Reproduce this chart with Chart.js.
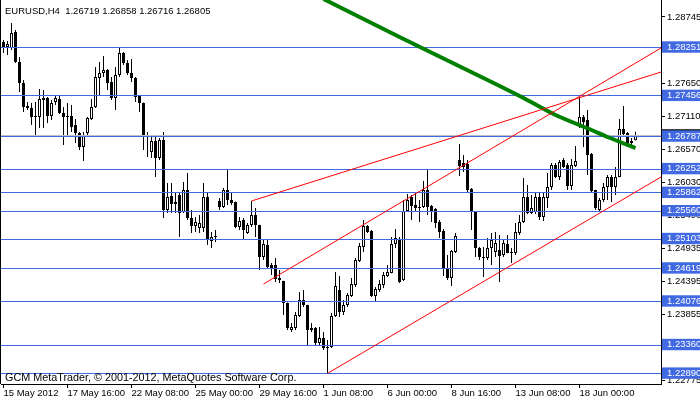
<!DOCTYPE html>
<html>
<head>
<meta charset="utf-8">
<title>EURUSD,H4</title>
<script src="https://cdn.jsdelivr.net/npm/chart.js@4.4.1/dist/chart.umd.min.js"></script>
<style>
html, body { margin: 0; padding: 0; background: #ffffff; }
canvas { display: block; }
</style>
</head>
<body>
<canvas id="chart" width="700" height="402"></canvas>
<script>
// header and footer texts
var symbolTitle = 'EURUSD,H4  1.26719 1.26858 1.26716 1.26805';
var copyright = 'GCM MetaTrader, \u00a9 2001-2012, MetaQuotes Software Corp.';

// H4 candles, index 0 = 15 May 2012 00:00
var opens = [
	1.28334, 1.28251, 1.28235, 1.28498, 1.28005, 1.27660, 1.27281, 1.27249, 1.27117, 1.27101,
	1.27413, 1.27413, 1.27117, 1.27347, 1.27396, 1.27166, 1.27117, 1.27117, 1.26969, 1.26838,
	1.26607, 1.26838, 1.27068, 1.27265, 1.27742, 1.27824, 1.27873, 1.27676, 1.27413, 1.27791,
	1.28153, 1.27988, 1.27824, 1.27742, 1.27446, 1.27331, 1.26788, 1.26525, 1.26706, 1.26427,
	1.26722, 1.25572, 1.25802, 1.25670, 1.25818, 1.25539, 1.25900, 1.25440, 1.25309, 1.25276,
	1.25276, 1.25785, 1.25062, 1.25144, 1.25720, 1.25621, 1.25900, 1.25736, 1.25703, 1.25292,
	1.25407, 1.25194, 1.25325, 1.25489, 1.25325, 1.24799, 1.24996, 1.24667, 1.24667, 1.24454,
	1.24404, 1.24043, 1.23599, 1.23632, 1.23829, 1.24092, 1.24010, 1.23632, 1.23632, 1.23385,
	1.23467, 1.23319, 1.23319, 1.23829, 1.24256, 1.23895, 1.24010, 1.24158, 1.24339, 1.24733,
	1.24963, 1.25309, 1.25226, 1.24158, 1.24256, 1.24339, 1.24487, 1.24536, 1.25013, 1.25095,
	1.24421, 1.25555, 1.25785, 1.25654, 1.25605, 1.25621, 1.25900, 1.25637, 1.25588, 1.25374,
	1.25226, 1.24618, 1.24454, 1.24881, 1.26394, 1.26344, 1.26328, 1.25917, 1.25539, 1.24947,
	1.24799, 1.24783, 1.24947, 1.24881, 1.24914, 1.24832, 1.25013, 1.24881, 1.24865, 1.25194,
	1.25374, 1.25785, 1.25522, 1.25539, 1.25785, 1.25457, 1.25769, 1.25950, 1.26311, 1.26114,
	1.26394, 1.26311, 1.25966, 1.26295, 1.26969, 1.27101, 1.27051, 1.26492, 1.25900, 1.25572,
	1.25736, 1.25950, 1.26114, 1.25950, 1.26114, 1.26903, 1.26838, 1.26673, 1.26719
];
var highs = [
	1.28366, 1.28350, 1.28646, 1.28531, 1.28087, 1.27709, 1.27347, 1.27331, 1.27347, 1.27561,
	1.27544, 1.27429, 1.27380, 1.27462, 1.27446, 1.27265, 1.27331, 1.27298, 1.27068, 1.26854,
	1.26854, 1.27101, 1.27396, 1.27923, 1.28005, 1.28103, 1.27890, 1.27758, 1.27923, 1.28235,
	1.28169, 1.28038, 1.28054, 1.27758, 1.27462, 1.27340, 1.26854, 1.26772, 1.26805, 1.26755,
	1.26854, 1.26016, 1.26016, 1.25851, 1.25851, 1.26032, 1.26180, 1.25572, 1.25457, 1.25489,
	1.26016, 1.25851, 1.25210, 1.25243, 1.25769, 1.25933, 1.26229, 1.25868, 1.25710, 1.25457,
	1.25440, 1.25358, 1.25720, 1.25605, 1.25330, 1.25078, 1.25078, 1.24700, 1.24783, 1.24585,
	1.24410, 1.24050, 1.23714, 1.23895, 1.24224, 1.24256, 1.24015, 1.23714, 1.23648, 1.23648,
	1.23566, 1.23434, 1.23878, 1.24552, 1.24487, 1.24092, 1.24207, 1.24454, 1.24783, 1.25029,
	1.25407, 1.25325, 1.25243, 1.24306, 1.24421, 1.24552, 1.24667, 1.25128, 1.25259, 1.25128,
	1.25736, 1.25835, 1.25818, 1.25851, 1.25736, 1.26048, 1.26246, 1.25654, 1.25605, 1.25407,
	1.25259, 1.24832, 1.24914, 1.25194, 1.26656, 1.26476, 1.26394, 1.25933, 1.25545, 1.24963,
	1.24963, 1.25111, 1.25194, 1.25210, 1.25161, 1.25078, 1.25161, 1.24947, 1.25358, 1.25489,
	1.26098, 1.25983, 1.25818, 1.25851, 1.25851, 1.25851, 1.26180, 1.26344, 1.26344, 1.26394,
	1.26427, 1.26344, 1.26410, 1.26624, 1.27429, 1.27133, 1.27216, 1.26509, 1.25905, 1.25769,
	1.26016, 1.26147, 1.26147, 1.26279, 1.27068, 1.27281, 1.26854, 1.26755, 1.26858
];
var lows = [
	1.28153, 1.28120, 1.28202, 1.27988, 1.27512, 1.27183, 1.27216, 1.26969, 1.26772, 1.26920,
	1.26920, 1.27002, 1.27051, 1.27298, 1.27150, 1.26640, 1.26772, 1.26854, 1.26673, 1.26558,
	1.26377, 1.26772, 1.27051, 1.27249, 1.27462, 1.27758, 1.27544, 1.27380, 1.27216, 1.27758,
	1.27955, 1.27791, 1.27676, 1.27347, 1.27183, 1.26558, 1.26443, 1.26427, 1.26114, 1.26394,
	1.25440, 1.25522, 1.25522, 1.25522, 1.25128, 1.25522, 1.25407, 1.25194, 1.25210, 1.25194,
	1.25210, 1.24996, 1.24947, 1.25046, 1.25572, 1.25605, 1.25654, 1.25654, 1.25276, 1.25243,
	1.25078, 1.25177, 1.25292, 1.25128, 1.24585, 1.24750, 1.24602, 1.24503, 1.24388, 1.24372,
	1.23845, 1.23599, 1.23566, 1.23599, 1.23813, 1.23977, 1.23352, 1.23566, 1.23352, 1.23352,
	1.23270, 1.22885, 1.23303, 1.23813, 1.23813, 1.23845, 1.23977, 1.24141, 1.24306, 1.24717,
	1.24881, 1.25194, 1.24141, 1.24059, 1.24224, 1.24289, 1.24470, 1.24530, 1.24947, 1.24372,
	1.24404, 1.25539, 1.25407, 1.25555, 1.25374, 1.25605, 1.25489, 1.25374, 1.25276, 1.25111,
	1.24487, 1.24421, 1.24322, 1.24865, 1.26131, 1.26196, 1.25868, 1.25243, 1.24799, 1.24750,
	1.24470, 1.24750, 1.24667, 1.24799, 1.24388, 1.24799, 1.24860, 1.24700, 1.24832, 1.25161,
	1.25358, 1.25506, 1.25506, 1.25506, 1.25407, 1.25391, 1.25605, 1.25900, 1.26098, 1.26065,
	1.26262, 1.25900, 1.25900, 1.26279, 1.26920, 1.26607, 1.26147, 1.25868, 1.25572, 1.25539,
	1.25703, 1.25736, 1.25703, 1.25818, 1.26110, 1.26805, 1.26607, 1.26640, 1.26716
];
var closes = [
	1.28235, 1.28301, 1.28482, 1.28005, 1.27660, 1.27265, 1.27249, 1.27101, 1.27101, 1.27396,
	1.27380, 1.27117, 1.27331, 1.27413, 1.27166, 1.27101, 1.27101, 1.26936, 1.26838, 1.26607,
	1.26805, 1.27084, 1.27265, 1.27758, 1.27824, 1.27873, 1.27660, 1.27413, 1.27791, 1.28153,
	1.27988, 1.27824, 1.27742, 1.27429, 1.27331, 1.26788, 1.26772, 1.26706, 1.26427, 1.26722,
	1.25572, 1.25785, 1.25670, 1.25703, 1.25522, 1.25900, 1.25440, 1.25309, 1.25374, 1.25358,
	1.25785, 1.25078, 1.25128, 1.25128, 1.25621, 1.25900, 1.25736, 1.25687, 1.25292, 1.25391,
	1.25243, 1.25325, 1.25489, 1.25325, 1.24799, 1.25013, 1.24635, 1.24618, 1.24437, 1.24421,
	1.24043, 1.23632, 1.23648, 1.23845, 1.24092, 1.24010, 1.23599, 1.23599, 1.23385, 1.23467,
	1.23303, 1.23303, 1.23829, 1.24322, 1.23895, 1.24010, 1.24174, 1.24355, 1.24750, 1.24980,
	1.25309, 1.25210, 1.24158, 1.24273, 1.24355, 1.24503, 1.24552, 1.25013, 1.25111, 1.24388,
	1.25555, 1.25736, 1.25637, 1.25605, 1.25621, 1.25900, 1.25621, 1.25555, 1.25358, 1.25210,
	1.24618, 1.24454, 1.24898, 1.25144, 1.26295, 1.26279, 1.25900, 1.25539, 1.24947, 1.24799,
	1.24783, 1.24947, 1.25078, 1.25029, 1.24815, 1.25029, 1.24865, 1.24865, 1.25210, 1.25374,
	1.25785, 1.25522, 1.25605, 1.25785, 1.25457, 1.25785, 1.25950, 1.26311, 1.26114, 1.26361,
	1.26279, 1.25966, 1.26311, 1.26377, 1.27101, 1.27018, 1.26476, 1.25884, 1.25605, 1.25736,
	1.25950, 1.26114, 1.25950, 1.26114, 1.26903, 1.26821, 1.26640, 1.26706, 1.26805
];

// time axis labels
var xTickIndex = [0, 16, 32, 48, 64, 80, 96, 112, 128, 144];
var xTickLabels = ['15 May 2012', '17 May 16:00', '22 May 08:00', '25 May 00:00', '29 May 16:00',
	'1 Jun 08:00', '6 Jun 00:00', '8 Jun 16:00', '13 Jun 08:00', '18 Jun 00:00'];

// price scale labels, horizontal lines and bid
var gridTicks = [1.28745, 1.27650, 1.27110, 1.26570, 1.26030, 1.25490, 1.24935, 1.24395, 1.23855, 1.23315, 1.22775];
var levels = [1.28251, 1.27456, 1.26787, 1.26252, 1.25862, 1.25560, 1.25103, 1.24619, 1.24076, 1.23360, 1.22890];
var bidPrice = 1.26805;

// moving average (read at a few bars)
var maIndex = [80, 99, 121, 130, 138, 147, 151, 158];
var maValues = [1.29040, 1.28416, 1.27709, 1.27413, 1.27133, 1.26887, 1.26772, 1.26590];

// trend lines: [startBar, startPrice, endBar, endPrice]
var channelLow = [81, 1.22885, 164.375, 1.26114];
var channelHigh = [65, 1.24355, 164.375, 1.28235];
var trendMid = [62, 1.25720, 164.375, 1.27840];

var levelColor = '#4169E1';
var bidColor = '#C0C0C0';

var wickData = [];
var bodyData = [];
var bodyFill = [];
for (var i = 0; i < opens.length; i++) {
	wickData.push({x: i, y: [lows[i], highs[i]]});
	bodyData.push({x: i, y: [opens[i], closes[i]]});
	bodyFill.push(closes[i] >= opens[i] ? '#ffffff' : '#000000');
}
var maData = maIndex.map(function(v, k){ return {x: v, y: maValues[k]}; });
function lineData(t){ return [{x: t[0], y: t[1]}, {x: t[2], y: t[3]}]; }
function isLevel(v){ return levels.indexOf(v) >= 0; }

Chart.defaults.font.family = '"Liberation Sans", Arial, sans-serif';
Chart.defaults.font.size = 9.5;
Chart.defaults.color = '#000000';

var decor = {
	id: 'decor',
	afterDatasetDraw: function(chart, args){
		if (args.index !== 1) return;
		var ctx = chart.ctx;
		var area = chart.chartArea;
		var ys = chart.scales.y;
		ctx.save();
		ctx.beginPath();
		ctx.rect(area.left, area.top, area.right - area.left, area.bottom - area.top);
		ctx.clip();
		ctx.lineWidth = 1;
		ctx.strokeStyle = bidColor;
		var py = Math.round(ys.getPixelForValue(bidPrice)) + 0.5;
		ctx.beginPath(); ctx.moveTo(area.left, py); ctx.lineTo(area.right, py); ctx.stroke();
		ctx.strokeStyle = levelColor;
		levels.forEach(function(v){
			var p = Math.round(ys.getPixelForValue(v)) + 0.5;
			ctx.beginPath(); ctx.moveTo(area.left, p); ctx.lineTo(area.right, p); ctx.stroke();
		});
		ctx.restore();
	},
	afterDraw: function(chart){
		var ctx = chart.ctx;
		var area = chart.chartArea;
		ctx.save();
		ctx.strokeStyle = '#000000';
		ctx.lineWidth = 1;
		ctx.beginPath(); ctx.moveTo(0.5, area.top); ctx.lineTo(0.5, area.bottom); ctx.stroke();
		ctx.fillStyle = '#000000';
		ctx.textBaseline = 'alphabetic';
		ctx.textAlign = 'left';
		ctx.font = '9.5px "Liberation Sans", Arial, sans-serif';
		ctx.fillText(symbolTitle, 5, 14);
		ctx.font = '10.8px "Liberation Sans", Arial, sans-serif';
		ctx.fillText(copyright, 5, 381);
		ctx.restore();
	}
};

new Chart(document.getElementById('chart'), {
	type: 'bar',
	data: {
		datasets: [
			{
				label: 'wick', data: wickData, order: 6, grouped: false,
				backgroundColor: '#000000', borderWidth: 0,
				categoryPercentage: 1, barPercentage: 1, maxBarThickness: 1, inflateAmount: 0
			},
			{
				label: 'body', data: bodyData, order: 5, grouped: false,
				backgroundColor: bodyFill, borderColor: '#000000', borderWidth: 1, borderSkipped: false,
				categoryPercentage: 1, barPercentage: 1, maxBarThickness: 3, minBarLength: 1, inflateAmount: 0
			},
			{
				type: 'line', label: 'MA', data: maData, order: 2,
				borderColor: '#008000', borderWidth: 4, pointRadius: 0, tension: 0.3
			},
			{
				type: 'line', label: 'channel low', data: lineData(channelLow), order: 1,
				borderColor: '#FF0000', borderWidth: 1, pointRadius: 0
			},
			{
				type: 'line', label: 'channel high', data: lineData(channelHigh), order: 1,
				borderColor: '#FF0000', borderWidth: 1, pointRadius: 0
			},
			{
				type: 'line', label: 'trend', data: lineData(trendMid), order: 1,
				borderColor: '#FF0000', borderWidth: 1, pointRadius: 0
			}
		]
	},
	options: {
		responsive: false,
		animation: false,
		devicePixelRatio: 1,
		layout: { padding: { left: 1, top: 0, right: 0, bottom: 0 } },
		plugins: { legend: { display: false }, tooltip: { enabled: false } },
		scales: {
			x: {
				type: 'linear', min: -0.625, max: 164.375, offset: false,
				afterBuildTicks: function(scale){
					scale.ticks = xTickIndex.map(function(v){ return {value: v}; });
				},
				afterFit: function(scale){
					scale.height = 18; scale.paddingLeft = 0; scale.paddingRight = 0;
				},
				grid: { drawOnChartArea: false, drawTicks: true, tickLength: 4, color: '#000000', offset: false },
				border: { display: true, color: '#000000' },
				ticks: {
					autoSkip: false, maxRotation: 0, minRotation: 0, align: 'start', padding: 0, color: '#000000',
					callback: function(v){
						var k = xTickIndex.indexOf(v);
						return k >= 0 ? xTickLabels[k] : '';
					}
				}
			},
			y: {
				type: 'linear', position: 'right', min: 1.22711, max: 1.29024,
				afterBuildTicks: function(scale){
					scale.ticks = gridTicks.concat([bidPrice], levels).map(function(v){ return {value: v}; });
				},
				afterFit: function(scale){
					scale.width = 39; scale.paddingTop = 0; scale.paddingBottom = 0;
				},
				grid: { drawOnChartArea: false, drawTicks: true, tickLength: 4, color: '#000000' },
				border: { display: true, color: '#000000' },
				ticks: {
					autoSkip: false, padding: 2,
					callback: function(v){ return v.toFixed(5); },
					color: function(c){ return (isLevel(c.tick.value) || c.tick.value === bidPrice) ? '#ffffff' : '#000000'; },
					showLabelBackdrop: function(c){ return isLevel(c.tick.value) || c.tick.value === bidPrice; },
					backdropColor: function(c){ return c.tick.value === bidPrice ? '#000000' : levelColor; },
					backdropPadding: { top: 0, bottom: 0, left: 5, right: 8 }
				}
			}
		}
	},
	plugins: [decor]
});
</script>
</body>
</html>
